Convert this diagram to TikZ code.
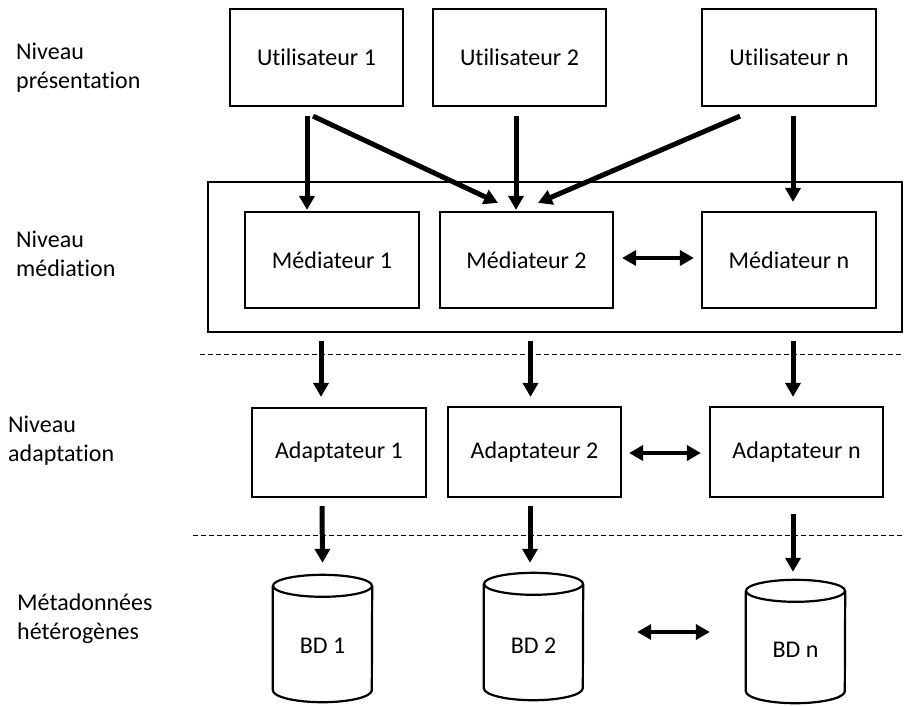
\documentclass[tikz,border=0pt]{standalone}
\usepackage{fontspec}
\setmainfont[Ligatures={NoCommon}]{Carlito}
\usetikzlibrary{arrows.meta,calc}
\tikzset{
  box/.style={draw, line width=2.2pt, rectangle, inner sep=0pt, font=\fontsize{24}{29}\selectfont},
  lbl/.style={font=\fontsize{24}{29}\selectfont, align=left, anchor=west, inner sep=0pt},
  arr/.style={line width=5pt, -{Triangle[width=15pt,length=14pt]}},
  darr/.style={line width=4.5pt, {Triangle[width=15pt,length=14pt]}-{Triangle[width=15pt,length=14pt]}},
  sepline/.style={line width=1pt, dash pattern=on 5pt off 3pt},
  cyl/.style={line width=2.2pt},
  cylbody/.style={inner sep=0pt, minimum width=99pt},
  cyltext/.style={font=\fontsize{24}{29}\selectfont, inner sep=0pt},
}
% #1 name, #2 centre x, #3 body centre y, #4 body height, #5 text, #6 text y
\newcommand{\dbcylinder}[6]{%
  \node[cylbody, minimum height=#4pt] (#1) at (#2,#3) {};
  \draw[cyl] (#1.north west) -- (#1.south west)
     arc[start angle=180, end angle=360, x radius=49.5pt, y radius=12pt] -- (#1.north east);
  \draw[cyl] (#1.north) ellipse[x radius=49.5pt, y radius=11pt];
  \node[cyltext] (#1t) at (#2,#6) {#5};
}
\begin{document}
\begin{tikzpicture}[x=1pt,y=-1pt]
\fill[white] (0,0) rectangle (904,705);
\useasboundingbox (0,0) rectangle (904,705);

% level labels
\node[lbl] (l1) at (16,68) {Niveau\\présentation};
\node[lbl] (l2) at (16,254) {Niveau\\médiation};
\node[lbl] (l3) at (8,441) {Niveau\\adaptation};
\node[lbl] (l4) at (17,619) {Métadonnées\\hétérogènes};

% users
\node[box, minimum width=173pt, minimum height=97pt] (u1) at (316.5,57.5) {Utilisateur 1};
\node[box, minimum width=173pt, minimum height=97pt] (u2) at (519.5,57.5) {Utilisateur 2};
\node[box, minimum width=174pt, minimum height=97pt] (un) at (789,57.5) {Utilisateur n};

% mediation frame
\node[box, minimum width=694pt, minimum height=150pt] (med) at (555,257) {};
\node[box, minimum width=174pt, minimum height=96pt] (m1) at (332,260) {Médiateur 1};
\node[box, minimum width=173pt, minimum height=96pt] (m2) at (526.5,260) {Médiateur 2};
\node[box, minimum width=174pt, minimum height=96pt] (mn) at (789,260) {Médiateur n};

% adapters
\node[box, minimum width=174pt, minimum height=89pt] (a1) at (339,452.5) {Adaptateur 1};
\node[box, minimum width=173pt, minimum height=90pt] (a2) at (534.5,452) {Adaptateur 2};
\node[box, minimum width=173pt, minimum height=90pt] (an) at (796.5,452) {Adaptateur n};

% databases
\dbcylinder{bd1}{322.5}{638}{104}{BD 1}{646}
\dbcylinder{bd2}{533.5}{636}{104}{BD 2}{646}
\dbcylinder{bdn}{795.5}{641}{100}{BD n}{650}

% dashed separators
\draw[sepline] (200,354) -- (904,354);
\draw[sepline] (193,535) -- (904,535);

% presentation -> mediation
\draw[arr] ($(u1.south)+(-9.5,9)$) -- ($(m1.north)+(-25,-1)$);
\draw[arr] ($(u1.south)+(-3.5,9)$) -- ($(m2.north)+(-28.5,-8)$);
\draw[arr] ($(u2.south)+(-3.5,9)$) -- ($(m2.north)+(-10.5,-1)$);
\draw[arr] ($(un.south)+(-49,9)$) -- ($(m2.north)+(11.5,-8)$);
\draw[arr] ($(un.south)+(4,9)$) -- ($(mn.north)+(4,-9)$);
\draw[darr] ($(m2.east)+(8,-2)$) -- ($(mn.west)+(-7,-2)$);

% mediation -> adaptation
\draw[arr] ($(m1.south)+(-11,32)$) -- ($(a1.north)+(-18,-10)$);
\draw[arr] ($(m2.south)+(4,32)$) -- ($(a2.north)+(-4,-9)$);
\draw[arr] ($(mn.south)+(4,32)$) -- ($(an.north)+(-3.5,-9)$);
\draw[darr] ($(a2.east)+(7,1)$) -- ($(an.west)+(-8,1)$);

% adaptation -> databases
\draw[arr] ($(a1.south)+(-17,8)$) -- ($(bd1.north)+(0,-23)$);
\draw[arr] ($(a2.south)+(-4.5,8)$) -- ($(bd2.north)+(-3.5,-21)$);
\draw[arr] ($(an.south)+(-3.5,16)$) -- ($(bdn.north)+(-2.5,-19)$);
\draw[darr] ($(bd2.east)+(54,-4)$) -- ($(bdn.west)+(-36,-9)$);
\end{tikzpicture}
\end{document}
